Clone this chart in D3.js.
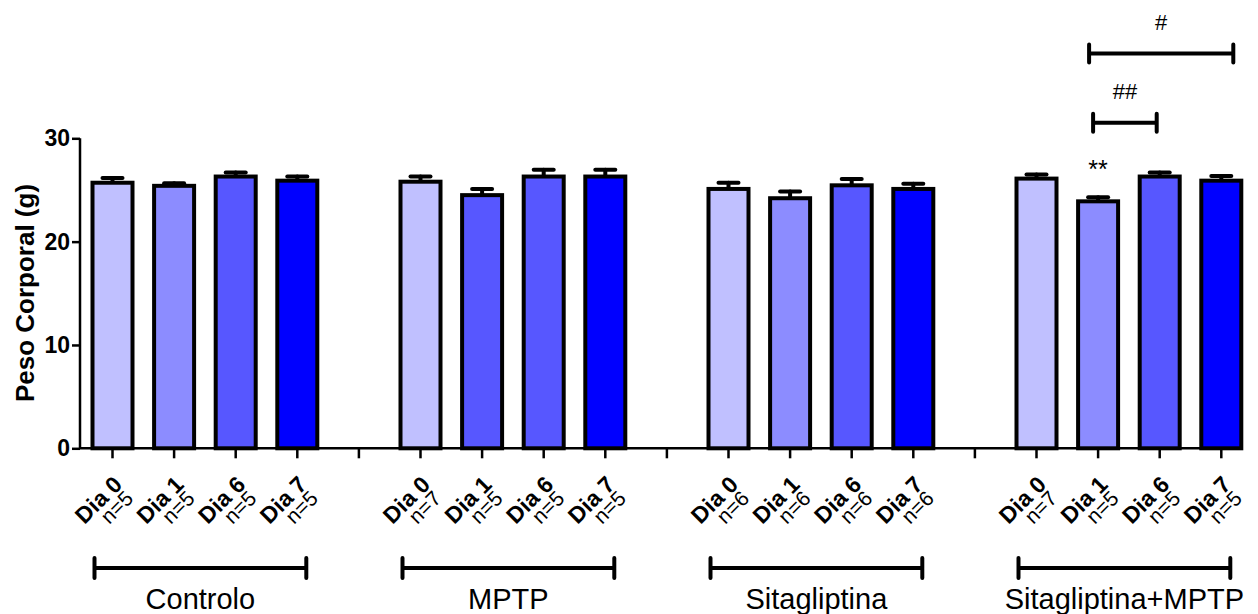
<!DOCTYPE html>
<html>
<head>
<meta charset="utf-8" />
<title>Peso Corporal</title>
<style>
  body { margin: 0; background: #fff; }
  svg { display: block; font-family: "Liberation Sans", Arial, sans-serif; }
  .bar { stroke: #000; stroke-width: 4px; }
  .err { stroke: #000; stroke-width: 4px; stroke-linecap: round; }
  .axis path, .axis line { stroke: #000; stroke-width: 2.5px; }
  .bracket { stroke: #000; stroke-width: 4px; stroke-linecap: round; fill: none; }
</style>
</head>
<body>
<svg id="chart" width="1258" height="614"></svg>
<script src="https://cdnjs.cloudflare.com/ajax/libs/d3/7.8.5/d3.min.js"></script>
<script>
// --- data ---
var groups = ["Controlo", "MPTP", "Sitagliptina", "Sitagliptina+MPTP"];
var days = ["Dia 0", "Dia 1", "Dia 6", "Dia 7"];

var meanControlo = [25.7, 25.4, 26.3, 25.9];
var semControlo  = [0.45, 0.25, 0.4, 0.4];
var nControlo    = [5, 5, 5, 5];

var meanMPTP = [25.8, 24.5, 26.3, 26.3];
var semMPTP  = [0.5, 0.6, 0.65, 0.65];
var nMPTP    = [7, 5, 5, 5];

var meanSita = [25.1, 24.2, 25.45, 25.1];
var semSita  = [0.6, 0.65, 0.6, 0.5];
var nSita    = [6, 6, 6, 6];

var meanSitaMPTP = [26.1, 23.9, 26.3, 25.9];
var semSitaMPTP  = [0.4, 0.4, 0.4, 0.45];
var nSitaMPTP    = [7, 5, 5, 5];

var yTicks = [0, 10, 20, 30];

// significance marks in the Sitagliptina+MPTP group
var starMarks = [{ group: "Sitagliptina+MPTP", day: "Dia 1", label: "**" }];
var brackets = [
  { group: "Sitagliptina+MPTP", from: "Dia 1", to: "Dia 7", level: 38.2, label: "#" },
  { group: "Sitagliptina+MPTP", from: "Dia 1", to: "Dia 6", level: 31.5, label: "##" }
];

var allMeans = [meanControlo, meanMPTP, meanSita, meanSitaMPTP];
var allSem = [semControlo, semMPTP, semSita, semSitaMPTP];
var allN = [nControlo, nMPTP, nSita, nSitaMPTP];

var bars = [];
groups.forEach(function(g, gi) {
  days.forEach(function(d, di) {
    bars.push({ group: g, day: d, di: di, mean: allMeans[gi][di], sem: allSem[gi][di], n: allN[gi][di] });
  });
});

// slot keys: 4 bars per group, one empty slot between groups
var slots = [];
groups.forEach(function(g, gi) {
  if (gi > 0) slots.push("gap" + gi);
  days.forEach(function(d) { slots.push(g + "|" + d); });
});

var dayColors = ["#c0c0ff", "#8c8cff", "#5757ff", "#0000ff"];
function barColor(b) {
  // MPTP day 1 is drawn in the day-6 shade in the original
  if (b.group === "MPTP" && b.day === "Dia 1") return dayColors[2];
  return dayColors[b.di];
}

var svg = d3.select("#chart");
var y0 = 448.3;

var x = d3.scaleBand().domain(slots).range([81.7, 1252.1]).padding(0);
var y = d3.scaleLinear().domain([0, 30]).range([y0, 138.3]);
var barW = 40;
function cx(key) { return x(key) + x.bandwidth() / 2; }

// y axis
var yAxis = svg.append("g").attr("class", "axis")
  .attr("transform", "translate(80,0)")
  .call(d3.axisLeft(y).tickValues(yTicks).tickSize(8).tickSizeOuter(0).tickPadding(2));
yAxis.selectAll("text")
  .style("font-size", "23px").style("font-weight", "bold").attr("fill", "#000");
yAxis.select(".domain").attr("d", "M0," + y(30) + "V" + y0);

svg.append("text")
  .attr("transform", "translate(34,293) rotate(-90)")
  .attr("text-anchor", "middle")
  .style("font-size", "26px").style("font-weight", "bold")
  .text("Peso Corporal (g)");

// error bars (behind the bars)
var errG = svg.append("g");
bars.forEach(function(b) {
  var c = cx(b.group + "|" + b.day);
  errG.append("line").attr("class", "err")
    .attr("x1", c).attr("x2", c).attr("y1", y(b.mean)).attr("y2", y(b.mean + b.sem));
  errG.append("line").attr("class", "err")
    .attr("x1", c - 10).attr("x2", c + 10).attr("y1", y(b.mean + b.sem)).attr("y2", y(b.mean + b.sem));
});

// bars
svg.append("g").selectAll("rect").data(bars).enter().append("rect")
  .attr("class", "bar")
  .attr("x", function(b) { return cx(b.group + "|" + b.day) - barW / 2; })
  .attr("y", function(b) { return y(b.mean); })
  .attr("width", barW)
  .attr("height", function(b) { return y0 - y(b.mean); })
  .attr("fill", barColor);

// x axis
var xAxis = svg.append("g").attr("class", "axis")
  .attr("transform", "translate(0," + y0 + ")")
  .call(d3.axisBottom(x).tickSize(10).tickSizeOuter(0).tickFormat(""));
xAxis.select(".domain").attr("d", "M80,0H1243");

// tick labels
var lab = svg.append("g").selectAll("g").data(bars).enter().append("g")
  .attr("transform", function(b) {
    return "translate(" + (cx(b.group + "|" + b.day) + 11) + ",486) rotate(-45)";
  });
lab.append("text").attr("text-anchor", "end")
  .style("font-size", "23px").style("font-weight", "bold")
  .text(function(b) { return b.day; });
lab.append("text").attr("text-anchor", "end")
  .attr("x", -2).attr("y", 17.5)
  .style("font-size", "21px")
  .text(function(b) { return "n=" + b.n; });

// group brackets
groups.forEach(function(g) {
  var x1 = cx(g + "|" + days[0]) - 18, x2 = cx(g + "|" + days[3]) + 9, yy = 568;
  svg.append("path").attr("class", "bracket")
    .attr("d", "M" + x1 + "," + (yy - 10) + "V" + (yy + 10) + "M" + x1 + "," + yy + "H" + x2 +
      "M" + x2 + "," + (yy - 10) + "V" + (yy + 10));
  svg.append("text").attr("x", (x1 + x2) / 2).attr("y", 609)
    .attr("text-anchor", "middle").style("font-size", "29px")
    .text(g);
});

// significance
starMarks.forEach(function(s) {
  var b = bars.filter(function(d) { return d.group === s.group && d.day === s.day; })[0];
  svg.append("text").attr("x", cx(s.group + "|" + s.day)).attr("y", y(b.mean + b.sem) - 19)
    .attr("text-anchor", "middle").style("font-size", "25px").text(s.label);
});
var brOff = [[-9, 12], [-5, -3]];
brackets.forEach(function(br, i) {
  var x1 = cx(br.group + "|" + br.from) + brOff[i][0];
  var x2 = cx(br.group + "|" + br.to) + brOff[i][1];
  var yy = y(br.level);
  svg.append("path").attr("class", "bracket")
    .attr("d", "M" + x1 + "," + (yy - 9) + "V" + (yy + 9) + "M" + x1 + "," + yy + "H" + x2 +
      "M" + x2 + "," + (yy - 9) + "V" + (yy + 9));
  svg.append("text").attr("x", (x1 + x2) / 2).attr("y", yy - 24)
    .attr("text-anchor", "middle").style("font-size", "22px").text(br.label);
});
</script>
</body>
</html>
